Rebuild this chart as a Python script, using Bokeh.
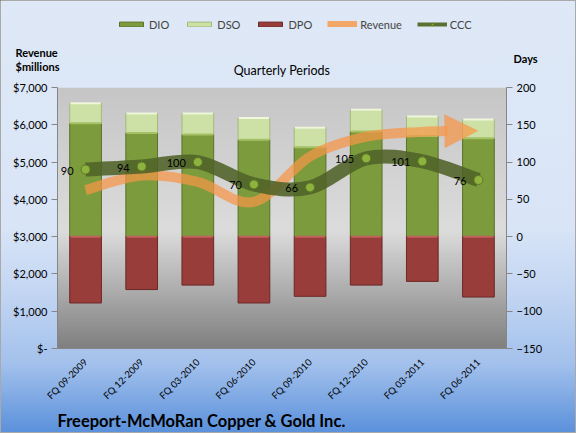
import math
import numpy as np
from bokeh.plotting import figure
from bokeh.layouts import column
from bokeh.models import (ColumnDataSource, Range1d, LinearAxis, FixedTicker,
                          NumeralTickFormatter, Label, Legend, LegendItem, Arrow,
                          NormalHead, FactorRange, Title)
from bokeh.embed import file_html
from bokeh.resources import INLINE
from bokeh.core.properties import value

# ---------------- data ----------------
categories = ["FQ 09-2009", "FQ 12-2009", "FQ 03-2010", "FQ 06-2010",
              "FQ 09-2010", "FQ 12-2010", "FQ 03-2011", "FQ 06-2011"]
dio = [152, 139, 137, 130, 120, 141, 135, 132]
dso = [27, 26, 28, 29, 26, 29, 26, 25]
dpo = [89, 71, 65, 89, 80, 65, 60, 81]
ccc = [90, 94, 100, 70, 66, 105, 101, 76]
revenue = [4250, 4640, 4470, 3930, 5150, 5680, 5810, 5840]
rev_ticks = [0, 1000, 2000, 3000, 4000, 5000, 6000, 7000]
day_ticks = [-150, -100, -50, 0, 50, 100, 150, 200]

FONT = "Lato"
ORANGE = "#f79646"
DKGREEN = "#4f6228"
DIO_FILL, DIO_LINE, DIO_HI = "#7b9b3c", "#5a7228", "#a6c266"
DSO_FILL, DSO_LINE, DSO_HI = "#cde0a6", "#a5b97b", "#eef6dc"
DPO_FILL, DPO_LINE, DPO_HI = "#993d3a", "#6b2826", "#c2625f"
MK_FILL, MK_LINE = "#8db23e", "#5c7a24"

# ================= header (legend + titles) =================
HEAD_H = 79
h = figure(width=576, height=HEAD_H, x_range=Range1d(0, 576), y_range=Range1d(HEAD_H, 0),
           x_axis_type=None, y_axis_type=None, output_backend="svg",
           toolbar_location=None, min_border=0)
h.border_fill_alpha = 0
h.background_fill_alpha = 0
h.outline_line_color = None
h.grid.visible = False

# off-canvas stand-ins that only supply the legend swatches
l_dio = h.vbar(x=[-50], top=[-50], width=1, fill_color=DIO_FILL, line_color=DIO_LINE)
l_dso = h.vbar(x=[-50], top=[-50], width=1, fill_color=DSO_FILL, line_color=DSO_LINE)
l_dpo = h.vbar(x=[-50], top=[-50], width=1, fill_color=DPO_FILL, line_color=DPO_LINE)
l_rev = h.line(x=[-60, -50], y=[-50, -50], line_color=ORANGE, line_width=7, line_alpha=0.8)
l_ccc = h.line(x=[-60, -50], y=[-50, -50], line_color="#5a7030", line_width=4)
l_ccm = h.scatter(x=[-50], y=[-50], size=7, fill_color=MK_FILL, line_color=MK_LINE)
legend = Legend(items=[
    LegendItem(label="DIO", renderers=[l_dio]),
    LegendItem(label="DSO", renderers=[l_dso]),
    LegendItem(label="DPO", renderers=[l_dpo]),
    LegendItem(label="Revenue", renderers=[l_rev]),
    LegendItem(label="CCC", renderers=[l_ccc, l_ccm]),
], orientation="horizontal", location=(116, HEAD_H - 31))
legend.background_fill_alpha = 0
legend.border_line_color = None
legend.padding = 0
legend.margin = 0
legend.spacing = 15
legend.glyph_width = 30
legend.glyph_height = 6
legend.label_height = 14
legend.label_standoff = 3
legend.label_text_font = FONT
legend.label_text_font_size = "11px"
h.add_layout(legend)


def hlab(text, x, y, size="11px", style="normal", align="left"):
    h.add_layout(Label(x=x, y=y, text=text, text_font=FONT, text_font_size=size,
                       text_font_style=style, text_align=align, text_baseline="middle",
                       text_color="#000000"))


hlab("Quarterly Periods", 281.5, 70, size="12.5px", align="center")
hlab("Revenue", 15, 52, style="bold")
hlab("$millions", 15, 66, style="bold")
hlab("Days", 513, 58, style="bold")

# ================= main chart =================
p = figure(frame_width=449, frame_height=261, x_range=FactorRange(*categories),
           y_range=Range1d(rev_ticks[0], rev_ticks[-1]),
           output_backend="svg", toolbar_location=None,
           min_border_left=57, min_border_right=70,
           min_border_top=8, min_border_bottom=85)
p.extra_y_ranges = {"days": Range1d(day_ticks[0], day_ticks[-1])}
p.border_fill_alpha = 0
p.background_fill_alpha = 0
p.outline_line_color = None

# plot-area gradient (styling)
n = 200
frac = np.linspace(1, 0, n)  # row 0 = bottom
stops = [0.0, 0.55, 1.0]
cols = [(0xc6, 0xc6, 0xc6), (0xdc, 0xdc, 0xdc), (0x80, 0x80, 0x80)]
img = np.empty((n, 1), dtype=np.uint32)
view = img.view(dtype=np.uint8).reshape((n, 1, 4))
for ch in range(3):
    view[:, 0, ch] = np.interp(frac, stops, [c[ch] for c in cols]).astype(np.uint8)
view[:, 0, 3] = 255
p.image_rgba(image=[img], x=0, y=day_ticks[0], dw=len(categories),
             dh=day_ticks[-1] - day_ticks[0], y_range_name="days")

# bars
dso_top = [a + b for a, b in zip(dio, dso)]
neg_dpo = [-v for v in dpo]
src = ColumnDataSource(dict(x=categories, dio=dio, dso_bottom=dio,
                            dso_top=dso_top, dpo=neg_dpo, zero=[0] * len(dio)))
BW = 0.565
p.vbar(x="x", bottom=0, top="dio", width=BW, source=src, y_range_name="days",
       fill_color=DIO_FILL, line_color=DIO_LINE, line_width=1)
p.vbar(x="x", bottom="dso_bottom", top="dso_top", width=BW, source=src,
       y_range_name="days", fill_color=DSO_FILL, line_color=DSO_LINE, line_width=1)
p.vbar(x="x", bottom="dpo", top=0, width=BW, source=src, y_range_name="days",
       fill_color=DPO_FILL, line_color=DPO_LINE, line_width=1)
# bevel-like light edge along the top of each segment
for col, hi in (("dio", DIO_HI), ("dso_top", DSO_HI), ("zero", DPO_HI)):
    p.vbar(x="x", bottom=col, top=col, width=BW * 0.96, source=src, y_range_name="days",
           fill_alpha=0, line_color=hi, line_width=2)


# smooth lines via bezier segments
def bezier_segments(xv, yv):
    m = len(xv)
    seg = dict(x0=[], y0=[], x1=[], y1=[], cx0=[], cy0=[], cx1=[], cy1=[])
    for i in range(m - 1):
        a = i - 1 if i > 0 else i
        d = i + 2 if i + 2 < m else i + 1
        seg["x0"].append(xv[i]); seg["y0"].append(yv[i])
        seg["x1"].append(xv[i + 1]); seg["y1"].append(yv[i + 1])
        seg["cx0"].append(xv[i] + (xv[i + 1] - xv[a]) / 6)
        seg["cy0"].append(yv[i] + (yv[i + 1] - yv[a]) / 6)
        seg["cx1"].append(xv[i + 1] - (xv[d] - xv[i]) / 6)
        seg["cy1"].append(yv[i + 1] - (yv[d] - yv[i]) / 6)
    return seg


xs = [i + 0.5 for i in range(len(categories))]

# Revenue (orange, ends in an arrow head)
rseg = bezier_segments(xs, revenue)
t0 = 0.40
P0 = (rseg["x0"][-1], rseg["y0"][-1]); C1 = (rseg["cx0"][-1], rseg["cy0"][-1])
C2 = (rseg["cx1"][-1], rseg["cy1"][-1]); P3 = (rseg["x1"][-1], rseg["y1"][-1])
lerp = lambda u, v, t: (u[0] + (v[0] - u[0]) * t, u[1] + (v[1] - u[1]) * t)
A = lerp(P0, C1, t0); B = lerp(C1, C2, t0); Cc = lerp(C2, P3, t0)
D = lerp(A, B, t0); E = lerp(B, Cc, t0); F = lerp(D, E, t0)
rseg["cx0"][-1], rseg["cy0"][-1] = A
rseg["cx1"][-1], rseg["cy1"][-1] = D
rseg["x1"][-1], rseg["y1"][-1] = F
p.bezier(source=ColumnDataSource(rseg), x0="x0", y0="y0", x1="x1", y1="y1",
         cx0="cx0", cy0="cy0", cx1="cx1", cy1="cy1",
         line_color=ORANGE, line_width=10, line_alpha=0.72, line_cap="butt")
p.add_layout(Arrow(end=NormalHead(size=34, fill_color=ORANGE, fill_alpha=0.72, line_color=None),
                   x_start=F[0], y_start=F[1], x_end=P3[0], y_end=P3[1],
                   line_alpha=0, line_width=0))

# CCC (dark green)
cseg = bezier_segments(xs, ccc)
p.bezier(source=ColumnDataSource(cseg), x0="x0", y0="y0", x1="x1", y1="y1",
         cx0="cx0", cy0="cy0", cx1="cx1", cy1="cy1", y_range_name="days",
         line_color=DKGREEN, line_width=14, line_alpha=0.88, line_cap="butt")
p.scatter(x=categories, y=ccc, y_range_name="days", size=9, marker="circle",
          fill_color=MK_FILL, line_color=MK_LINE, line_width=1)
p.text(x=categories, y=ccc, text=[str(v) for v in ccc], y_range_name="days",
       text_align="right", text_baseline="middle", x_offset=-12, y_offset=1,
       text_font=value(FONT), text_font_size="11px", text_color="#000000")

# axes
la = p.left[0]
la.ticker = FixedTicker(ticks=rev_ticks)
la.formatter = NumeralTickFormatter(format="$0,0")
la.major_label_overrides = {0: "$-"}
ra = LinearAxis(y_range_name="days", ticker=FixedTicker(ticks=day_ticks))
p.add_layout(ra, "right")
for ax in (la, ra):
    ax.axis_line_color = "#868686"
    ax.major_tick_line_color = "#868686"
    ax.major_tick_out = 6
    ax.major_tick_in = 0
    ax.minor_tick_line_color = None
    ax.major_label_text_font = FONT
    ax.major_label_text_font_size = "11px"
    ax.major_label_text_color = "#000000"
    ax.major_label_standoff = 4

xa = p.below[0]
xa.major_label_orientation = math.pi / 4
xa.major_label_text_font = FONT
xa.major_label_text_font_size = "9.5px"
xa.major_label_text_color = "#000000"
xa.major_tick_line_color = None
xa.axis_line_color = "#868686"
xa.major_label_standoff = 6

p.ygrid.ticker = FixedTicker(ticks=rev_ticks)
p.ygrid.grid_line_color = "#868686"
p.xgrid.grid_line_color = None

# company name below the axis
p.add_layout(Title(text="Freeport-McMoRan Copper & Gold Inc.", align="left",
                   text_font=FONT, text_font_size="16.5px", text_font_style="bold",
                   text_color="#000000", standoff=0), "below")

page = column(column(h), p, spacing=0, styles={
    "background": "linear-gradient(to bottom, #dee8f6 0%, #d9e5f7 52%, #c2d5f2 68%, #a3c1ec 84%, #5a90db 100%)",
    "box-shadow": "inset 0 0 0 1px #a9a9a9",
    "width": "576px", "height": "433px",
})

open("out.html", "w").write(file_html(page, INLINE))
